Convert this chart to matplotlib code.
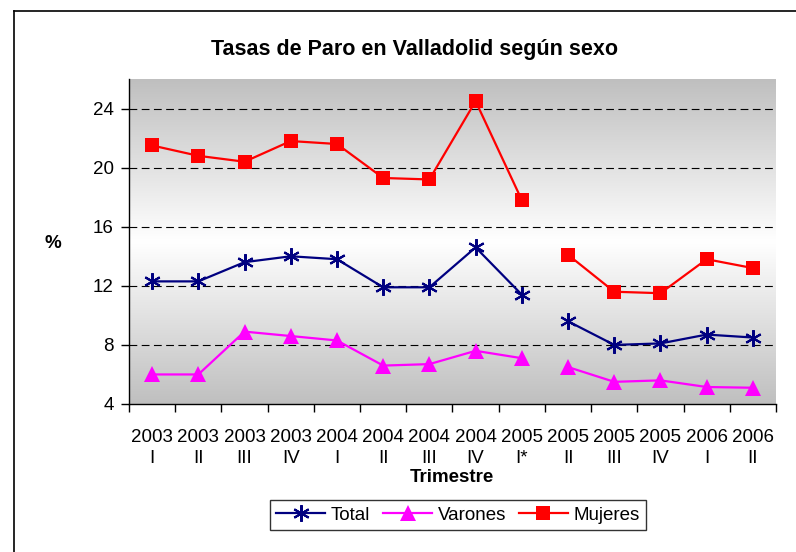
import numpy as np
import matplotlib
matplotlib.use("Agg")
import matplotlib.pyplot as plt
from matplotlib.lines import Line2D

plt.rcParams['font.family'] = ['Liberation Sans', 'DejaVu Sans']

years = ["2003", "2003", "2003", "2003", "2004", "2004", "2004", "2004",
         "2005", "2005", "2005", "2005", "2006", "2006"]
quarters = ["I", "II", "III", "IV", "I", "II", "III", "IV",
            "I*", "II", "III", "IV", "I", "II"]
total = [12.3, 12.3, 13.6, 14.0, 13.8, 11.9, 11.9, 14.6, 11.4,
         9.6, 8.0, 8.1, 8.7, 8.5]
varones = [6.0, 6.0, 8.9, 8.6, 8.3, 6.6, 6.7, 7.6, 7.1,
           6.5, 5.5, 5.6, 5.15, 5.1]
mujeres = [21.5, 20.8, 20.4, 21.8, 21.6, 19.3, 19.2, 24.5, 17.8,
           14.1, 11.6, 11.5, 13.8, 13.2]
break_after = 9  # series break between "2005 I*" and "2005 II"

W, H = 796, 552
fig = plt.figure(figsize=(W / 100, H / 100), dpi=100)

def fx(px):
    return px / W

def fy(py):
    return 1 - py / H

# outer chart frame (left and top edges visible)
fig.add_artist(Line2D([fx(14), fx(14)], [0, fy(11)], color='black', lw=1.2))
fig.add_artist(Line2D([fx(14), 1], [fy(11), fy(11)], color='black', lw=1.2))

left, right, top, bottom = 129, 776, 79, 404
ax = fig.add_axes([fx(left), fy(bottom), fx(right - left), (bottom - top) / H])

ymin, ymax = 4, 26
n = len(years)
ax.set_xlim(0, n)
ax.set_ylim(ymin, ymax)

# gradient background: gray at edges, white in the middle
t = np.linspace(0, 1, 256)
g = 0.75 + 0.25 * (1 - np.abs(2 * t - 1))
col2 = np.repeat(g[:, None], 2, axis=1)
img = np.dstack([col2, col2, col2])
ax.imshow(img, extent=[0, n, ymin, ymax], aspect='auto', origin='lower',
          zorder=0, interpolation='bilinear')

for yv in range(8, 25, 4):
    ax.axhline(yv, color='black', lw=0.8, ls=(0, (7, 4)), zorder=1)

x = np.arange(n) + 0.5
series = [
    ("Total", total, '#000080', dict(marker=(6, 2, 0), ms=12, mew=1.5)),
    ("Varones", varones, '#FF00FF', dict(marker='^', ms=11, mew=0)),
    ("Mujeres", mujeres, '#FF0000', dict(marker='s', ms=10, mew=0)),
]
handles = []
for name, vals, col, mk in series:
    v = np.array(vals)
    for sl in (slice(0, break_after), slice(break_after, n)):
        ax.plot(x[sl], v[sl], color=col, lw=1.6, mfc=col, mec=col,
                zorder=3, **mk)
    handles.append(Line2D([], [], color=col, lw=1.6, mfc=col, mec=col, **mk))

for s in ('top', 'right'):
    ax.spines[s].set_visible(False)
for s in ('left', 'bottom'):
    ax.spines[s].set_linewidth(1.0)

fs = 13.5
ax.set_yticks(range(4, 25, 4))
ax.tick_params(axis='y', direction='out', length=6, width=1, pad=5,
               labelsize=fs)
ax.set_xticks(range(0, n + 1))
ax.set_xticklabels([])
ax.set_xticks(x, minor=True)
ax.set_xticklabels([f"{y}\n{q}" for y, q in zip(years, quarters)], minor=True,
                   linespacing=1.3)
ax.tick_params(axis='x', which='major', direction='out', length=6, width=1)
ax.tick_params(axis='x', which='minor', length=0, pad=18, labelsize=fs)

fig.text(fx(415), fy(49), "Tasas de Paro en Valladolid según sexo",
         ha='center', va='center', fontsize=15.5, fontweight='bold')
fig.text(fx(53), fy(243), "%", ha='center', va='center', fontsize=fs,
         fontweight='bold')
fig.text(fx(452), fy(478), "Trimestre", ha='center', va='center',
         fontsize=fs, fontweight='bold')

leg = fig.legend(handles, [s[0] for s in series], ncol=3, loc='center',
                 bbox_to_anchor=(fx(458), fy(515)), fontsize=fs,
                 frameon=True, fancybox=False, edgecolor='black',
                 handlelength=2.6, handletextpad=0.3, columnspacing=0.7,
                 borderpad=0.35, borderaxespad=0)
leg.get_frame().set_linewidth(1.0)

fig.savefig("out.png", dpi=100)
